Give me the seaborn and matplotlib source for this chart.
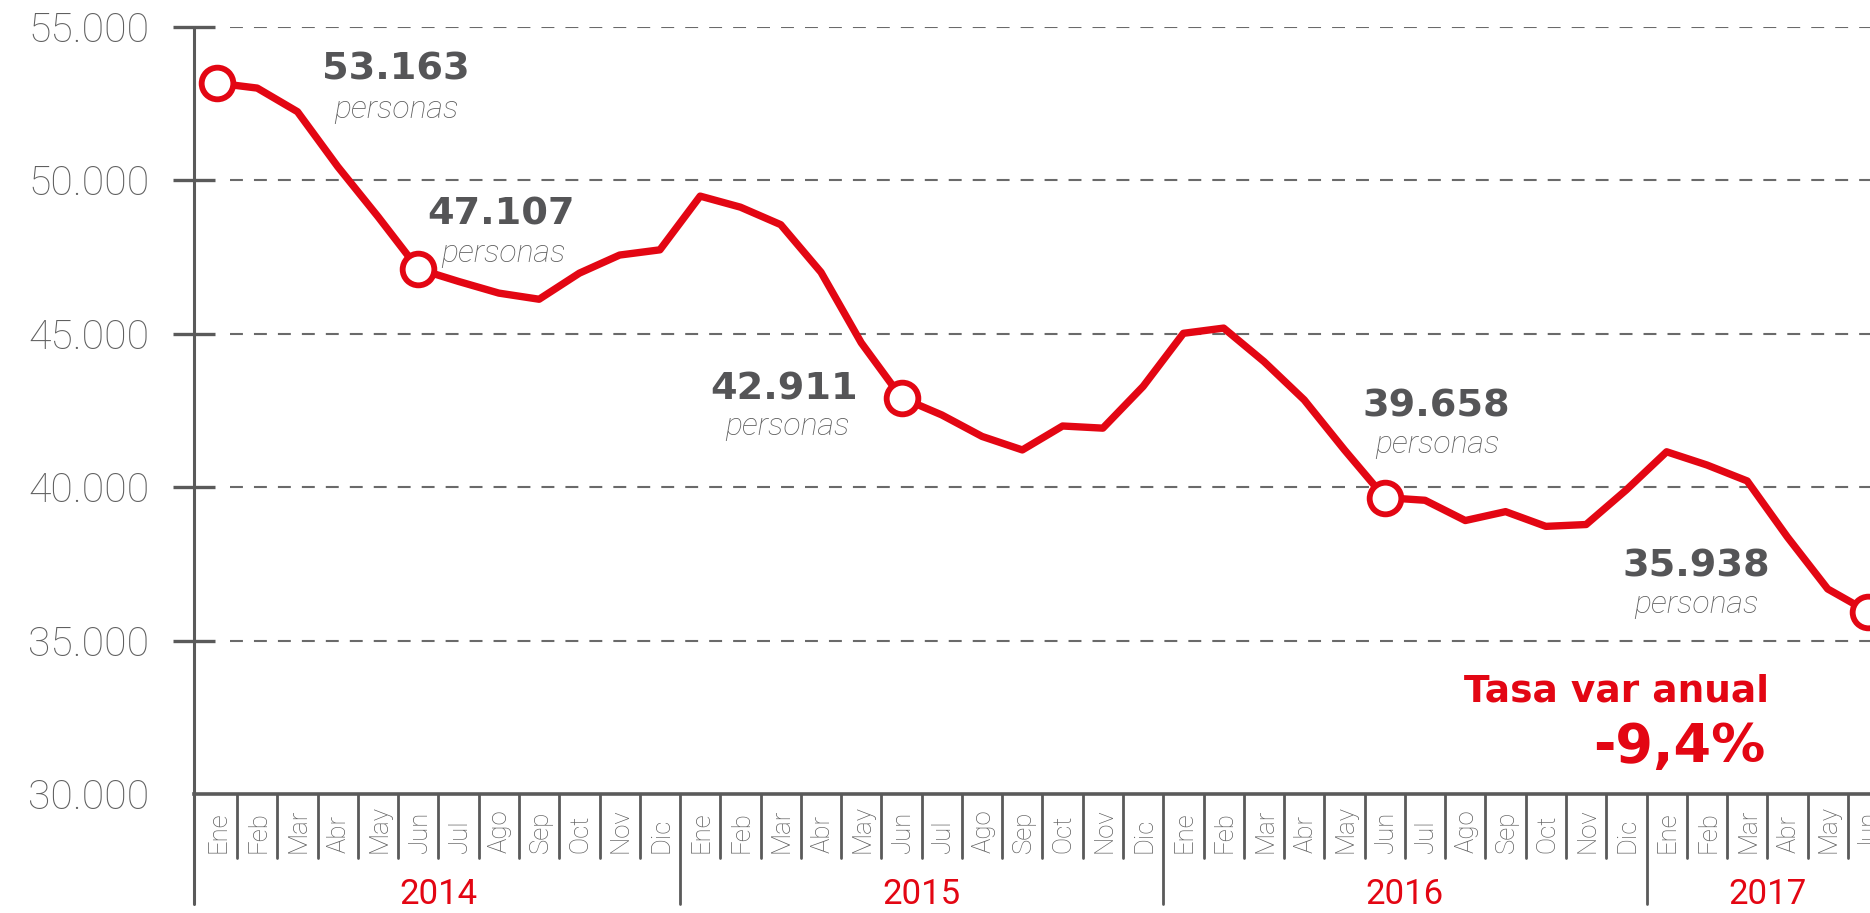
import matplotlib
matplotlib.use("Agg")
import matplotlib.pyplot as plt
from matplotlib.lines import Line2D
import seaborn as sns
import pandas as pd

# ---------------- data ----------------
months = ["Ene", "Feb", "Mar", "Abr", "May", "Jun", "Jul", "Ago", "Sep", "Oct", "Nov", "Dic"]
years = [2014, 2015, 2016, 2017]
month_labels = months * 3 + months[:6]
month_years = [2014] * 12 + [2015] * 12 + [2016] * 12 + [2017] * 6

values_2014 = [53163, 53000, 52230, 50440, 48810, 47107, 46700, 46320, 46120, 46970, 47560, 47730]
values_2015 = [49480, 49120, 48550, 47000, 44700, 42911, 42350, 41650, 41210, 41990, 41920, 43280]
values_2016 = [45010, 45180, 44090, 42840, 41210, 39658, 39570, 38910, 39200, 38720, 38780, 39910]
values_2017 = [41150, 40720, 40200, 38370, 36680, 35938]
values = values_2014 + values_2015 + values_2016 + values_2017

highlight_idx = [0, 5, 17, 29, 41]
unit_label = "personas"
rate_title = "Tasa var anual"
yticks = [30000, 35000, 40000, 45000, 50000, 55000]

# ---------------- style ----------------
RED = "#e30613"
DARK = "#555557"
GRAY = "#5f5f5f"
AX_GRAY = "#5a5a5a"

sns.set_theme(style="white")
plt.rcParams["font.family"] = ["DejaVu Sans"]

W, H = 1870, 913
fig = plt.figure(figsize=(W / 100, H / 100), dpi=100)
ax_left, ax_bottom_px, ax_top_px = 194, 794, 26.7
ax = fig.add_axes([ax_left / W, (H - ax_bottom_px) / H, (W - ax_left) / W,
                   (ax_bottom_px - ax_top_px) / H])
ax.set_facecolor("white")

n = len(values)
df = pd.DataFrame({"i": range(n), "v": values})
hdf = df.iloc[highlight_idx]

ax.set_xlim(-0.57, 41.05)
ax.set_ylim(30000, 55000)

# grid lines (dashed)
for yv in yticks[1:]:
    ax.axhline(yv, xmin=0.0215, xmax=1, color="#6a6a6a", lw=1.5,
               ls=(0, (6.2, 5.3)), zorder=1)

# line and markers
sns.lineplot(data=df, x="i", y="v", ax=ax, color=RED, lw=5.3,
             solid_joinstyle="round", solid_capstyle="round", zorder=3)
sns.scatterplot(data=hdf, x="i", y="v", ax=ax, s=520, facecolor="white",
                edgecolor=RED, linewidth=4.2, zorder=5, clip_on=False)

# spines / axes
for s in ["top", "right", "left"]:
    ax.spines[s].set_visible(False)
ax.spines["bottom"].set_color(AX_GRAY)
ax.spines["bottom"].set_linewidth(2.6)
ax.add_line(Line2D([0, 0], [1, -0.1434], transform=ax.transAxes, color=AX_GRAY,
                   lw=2.2, clip_on=False, zorder=4))

ax.set_xticks([])
ax.set_xlabel("")
ax.set_ylabel("")
ax.set_yticks(yticks)
ax.set_yticklabels([f"{v:,}".replace(",", ".") for v in yticks],
                   fontfamily="Roboto", fontweight="light", fontsize=29.5, color=GRAY)
ax.tick_params(axis="y", direction="inout", length=30, width=2.4, color=AX_GRAY, pad=17, left=True)
ax.yaxis.get_major_ticks()[0].tick1line.set_visible(False)

# month labels and separators
xt = ax.get_xaxis_transform()
for i, lab in enumerate(month_labels):
    ax.text(i + 0.03, -0.0769, lab, transform=xt, rotation=90, rotation_mode="anchor",
            ha="left", va="center", fontfamily="Roboto", fontweight="light",
            fontsize=18.5, color=GRAY)
for i in range(n - 1):
    boundary = month_years[i] != month_years[i + 1]
    ax.add_line(Line2D([i + 0.5, i + 0.5], [0, -0.1434 if boundary else -0.0834],
                       transform=xt, color=AX_GRAY, lw=2.0, clip_on=False))

# year labels
for y in years:
    idx = [i for i, yy in enumerate(month_years) if yy == y]
    ax.text(sum(idx) / len(idx), -0.1434, str(y), transform=xt, ha="center",
            va="baseline", fontfamily="Roboto", fontsize=25, color=RED)

# highlight annotations
value_offsets = [(178.5, 3.1), (82.7, 44), (-117.6, -2), (51.8, 81), (-172.2, 35.3)]
unit_offsets = [(179.7, -35), (84.7, 7.3), (-114.6, -37), (53, 44.4), (-171.3, -1.3)]
for k, i in enumerate(highlight_idx):
    v = values[i]
    ax.annotate(f"{v:,}".replace(",", "."), xy=(i, v), xytext=value_offsets[k],
                textcoords="offset pixels", ha="center", va="baseline",
                fontsize=27.5, fontweight="bold", color=DARK, fontfamily="DejaVu Sans",
                annotation_clip=False)
    ax.annotate(unit_label, xy=(i, v), xytext=unit_offsets[k],
                textcoords="offset pixels", ha="center", va="baseline",
                fontsize=23, fontweight="light", fontstyle="italic", color=GRAY,
                fontfamily="Roboto", annotation_clip=False)

# annual rate
rate = (values[-1] / values[-13] - 1) * 100
rate_txt = f"{rate:.1f}".replace(".", ",") + "%"
ax.text(0.9397, 0.1203, rate_title, transform=ax.transAxes, ha="right", va="baseline",
        fontsize=27, fontweight="bold", color=RED, fontfamily="DejaVu Sans")
ax.text(0.9374, 0.0421, rate_txt, transform=ax.transAxes, ha="right", va="baseline",
        fontsize=39, fontweight="bold", color=RED, fontfamily="DejaVu Sans")

fig.savefig("out.png", dpi=100, facecolor="white")
